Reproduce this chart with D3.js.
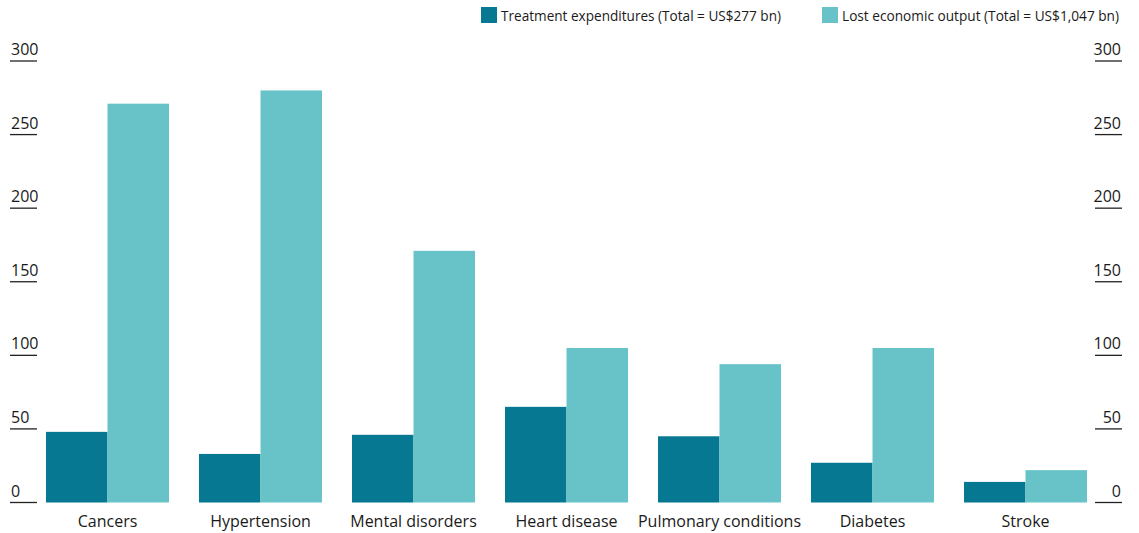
<!DOCTYPE html>
<html>
<head>
<meta charset="utf-8">
<script src="https://cdn.jsdelivr.net/npm/d3@7"></script>
<style>
  body { margin: 0; background: #fff; }
  text { font-family: "Open Sans", "Noto Sans", sans-serif; fill: #1a1a1a; }
</style>
</head>
<body>
<div class="chart"></div>
<script>
// Data.
const categories = ['Cancers', 'Hypertension', 'Mental disorders', 'Heart disease', 'Pulmonary conditions', 'Diabetes', 'Stroke'];
const treatment = [48, 33, 46, 65, 45, 27, 14];
const lostOutput = [271, 280, 171, 105, 94, 105, 22];
const yTicks = [0, 50, 100, 150, 200, 250, 300];
const seriesNames = ['Treatment expenditures (Total = US$277 bn)', 'Lost economic output (Total = US$1,047 bn)'];
const colors = ['#077891', '#68c3c9'];

const width = 1139;
const height = 533;

const svg = d3.select('.chart')
  .append('svg')
  .attr('width', width)
  .attr('height', height);

// Scales.
const yScale = d3.scaleLinear().domain([0, 300]).range([502.5, 61]);

const xScale = d3.scaleBand()
  .domain(categories)
  .range([31, 1102])
  .paddingInner(0.196)
  .paddingOuter(0.098);

const xSub = d3.scaleBand()
  .domain([0, 1])
  .range([0, xScale.bandwidth()]);

// Bars.
const rows = categories.map((c, i) => ({cat: c, values: [treatment[i], lostOutput[i]]}));

const groups = svg.selectAll('.group')
  .data(rows)
  .enter()
  .append('g')
  .attr('transform', d => `translate(${xScale(d.cat)},0)`);

groups.selectAll('rect')
  .data(d => d.values.map((v, j) => ({v, j})))
  .enter()
  .append('rect')
  .attr('x', d => xSub(d.j))
  .attr('y', d => yScale(d.v))
  .attr('width', xSub.bandwidth())
  .attr('height', d => yScale(0) - yScale(d.v))
  .style('fill', d => colors[d.j]);

// Axes: short underlines with labels above.
function drawAxis(x0, x1, anchor, tx) {
  const g = svg.append('g');
  g.selectAll('line')
    .data(yTicks)
    .enter()
    .append('line')
    .attr('x1', x0).attr('x2', x1)
    .attr('y1', d => yScale(d)).attr('y2', d => yScale(d))
    .style('stroke', '#222')
    .style('stroke-width', 1.3);
  g.selectAll('text')
    .data(yTicks)
    .enter()
    .append('text')
    .attr('x', tx)
    .attr('y', d => yScale(d) - 6)
    .attr('text-anchor', anchor)
    .style('font-size', '16px')
    .text(d => d);
}
drawAxis(10, 37, 'start', 11);
drawAxis(1095, 1122, 'end', 1121);

// Category labels.
svg.append('g')
  .selectAll('text')
  .data(categories)
  .enter()
  .append('text')
  .attr('x', d => xScale(d) + xScale.bandwidth() / 2)
  .attr('y', 527)
  .attr('text-anchor', 'middle')
  .style('font-size', '16px')
  .text(d => d);

// Legend.
const legendX = [481, 822];
const legendTextW = [280, 277];
const legend = svg.append('g')
  .selectAll('g')
  .data(seriesNames)
  .enter()
  .append('g')
  .attr('transform', (d, i) => `translate(${legendX[i]},7)`);

legend.append('rect')
  .attr('width', 16)
  .attr('height', 16)
  .style('fill', (d, i) => colors[i]);

legend.append('text')
  .attr('x', 20)
  .attr('y', 14)
  .style('font-size', '14px')
  .attr('textLength', (d, i) => legendTextW[i])
  .attr('lengthAdjust', 'spacingAndGlyphs')
  .text(d => d);
</script>
</body>
</html>
